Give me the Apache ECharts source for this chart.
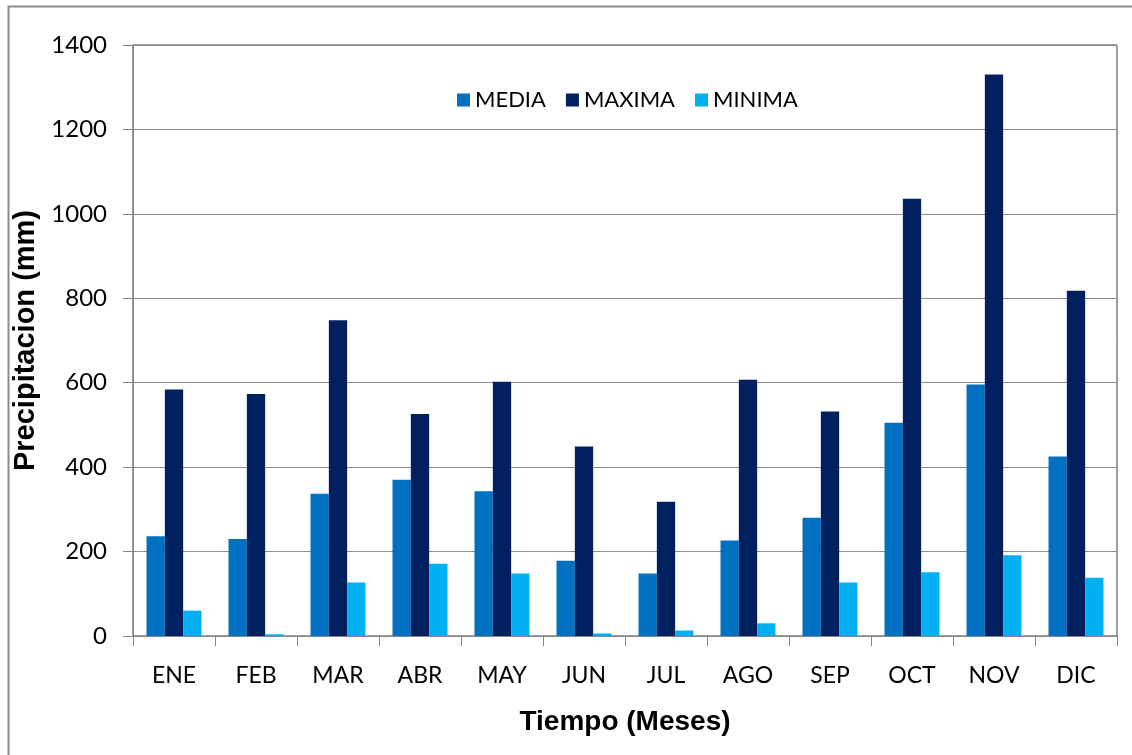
<!DOCTYPE html>
<html>
<head>
<meta charset="utf-8">
<script src="https://cdn.jsdelivr.net/npm/echarts@6/dist/echarts.min.js"></script>
<style>
  html, body { margin: 0; padding: 0; background: #fff; }
  #chart { width: 1132px; height: 755px; }
</style>
</head>
<body>
<div id="chart"></div>
<script>
const months = ['ENE', 'FEB', 'MAR', 'ABR', 'MAY', 'JUN', 'JUL', 'AGO', 'SEP', 'OCT', 'NOV', 'DIC']
const media = [236, 230, 337, 370, 343, 178, 148, 226, 280, 505, 596, 425]
const maxima = [584, 573, 748, 526, 602, 449, 318, 607, 532, 1036, 1330, 818]
const minima = [60, 4, 127, 171, 148, 6, 13, 30, 127, 151, 191, 138]

const font = 'Lato, "Open Sans", sans-serif'
const boldFont = 'Arial, "Liberation Sans", sans-serif'
const chart = echarts.init(document.getElementById('chart'))

const barSeries = (name, data, color) => ({
  name,
  type: 'bar',
  data,
  barGap: '0%',
  barCategoryGap: '33%',
  itemStyle: {color},
  emphasis: {disabled: true}
})

chart.setOption({
  backgroundColor: '#fff',
  animation: false,
  graphic: [{
    type: 'rect',
    shape: {x: 8.5, y: 6.5, width: 1200, height: 800},
    style: {fill: 'none', stroke: '#8c8c8c', lineWidth: 2},
    silent: true
  }],
  grid: {
    left: 133, right: 15, top: 45, bottom: 119,
    show: true, borderColor: '#404040', borderWidth: 1
  },
  legend: {
    top: 84,
    left: 452,
    itemWidth: 13,
    itemHeight: 13,
    itemGap: 20,
    icon: 'rect',
    textStyle: {fontFamily: font, fontSize: 22, color: '#000'},
    data: ['MEDIA', 'MAXIMA', 'MINIMA']
  },
  xAxis: {
    type: 'category',
    data: months,
    name: 'Tiempo (Meses)',
    nameLocation: 'middle',
    nameGap: 72,
    nameTextStyle: {fontFamily: boldFont, fontWeight: 'bold', fontSize: 28, color: '#000'},
    axisLine: {lineStyle: {color: '#868686'}},
    axisTick: {show: true, length: 10, lineStyle: {color: '#868686'}},
    axisLabel: {fontFamily: font, fontSize: 23, color: '#000', margin: 28}
  },
  yAxis: {
    type: 'value',
    min: 0,
    max: 1400,
    interval: 200,
    name: 'Precipitacion (mm)',
    nameLocation: 'middle',
    nameGap: 78,
    nameTextStyle: {fontFamily: boldFont, fontWeight: 'bold', fontSize: 29, color: '#000'},
    axisLine: {show: true, lineStyle: {color: '#868686'}},
    axisTick: {show: true, length: 10, lineStyle: {color: '#868686'}},
    axisLabel: {fontFamily: font, fontSize: 24, color: '#000', margin: 26, formatter: v => String(v)},
    splitLine: {lineStyle: {color: '#8c8c8c'}}
  },
  series: [
    barSeries('MEDIA', media, '#0070C0'),
    barSeries('MAXIMA', maxima, '#002060'),
    barSeries('MINIMA', minima, '#00B0F0')
  ]
})
</script>
</body>
</html>
